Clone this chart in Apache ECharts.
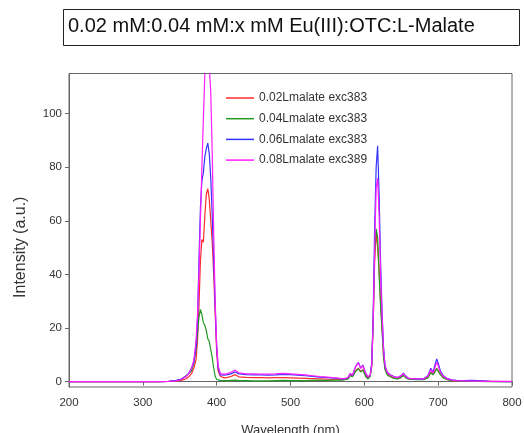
<!DOCTYPE html>
<html>
<head>
<meta charset="utf-8">
<script src="https://cdn.jsdelivr.net/npm/echarts@6/dist/echarts.min.js"></script>
<style>
  html, body { margin: 0; padding: 0; background: #fff; }
  #chart { width: 524px; height: 433px; }
</style>
</head>
<body>
<div id="chart"></div>
<script>
// wavelength (nm)
var wavelength = [200, 250, 300, 320, 335, 345, 352, 358, 362, 366, 369,
  372, 374, 376, 378, 380, 382, 384, 386, 388, 390, 392, 394, 396, 398, 400, 402,
  405, 410, 415, 420, 425, 430,
  440, 450, 460, 470, 480, 490, 500, 510, 520, 530, 540, 550, 560, 570,
  575, 578, 581, 584, 588, 592, 595, 598, 602, 605, 608,
  610, 612, 614, 616, 618, 620, 622, 624, 626, 628,
  631, 635, 640, 645, 650, 653, 656, 660, 670, 680,
  686, 690, 693, 696, 698, 700, 703, 707, 712, 718, 725, 735, 745, 755, 770, 800];

var malate002 = [0, 0, 0, 0, 0.05, 0.2, 0.5, 1, 1.8, 3, 5,
  8, 15, 28, 45, 53, 52, 62, 70, 72, 68, 60, 52, 40, 25, 11, 4,
  2, 1.4, 1.6, 2, 2.6, 1.8,
  1.6, 1.5, 1.5, 1.4, 1.5, 1.5, 1.4, 1.3, 1.2, 1.1, 1, 0.9, 0.8, 0.7,
  0.8, 1.2, 2.5, 2, 4, 5, 3.8, 4.5, 2.2, 1.3, 2.2,
  6, 22, 45, 56, 50, 42, 30, 20, 10, 5,
  3, 2, 1.4, 1.1, 1.7, 2.4, 1.6, 1, 0.8, 0.8,
  1.5, 3.5, 2.6, 4, 5, 4.5, 2.8, 1.5, 0.8, 0.4, 0.3, 0.2, 0.1, 0.1, 0.1, 0];

var malate004 = [0, 0, 0, 0, 0.1, 0.3, 0.8, 2, 3, 4, 7,
  12, 18, 24, 27, 25, 22, 21, 19, 16, 15, 12, 9, 5, 2, 0.8, 0.6,
  0.5, 0.4, 0.4, 0.5, 0.6, 0.4,
  0.4, 0.3, 0.3, 0.3, 0.4, 0.5, 0.4, 0.4, 0.4, 0.5, 0.5, 0.5, 0.6, 0.6,
  0.8, 1, 2.2, 1.8, 3.8, 4.8, 3.6, 4.3, 1.8, 1, 2,
  6, 23, 48, 57, 54, 40, 28, 19, 9, 4.5,
  2.5, 1.8, 1.2, 1, 1.6, 2.3, 1.5, 0.9, 0.7, 0.7,
  1.4, 3.3, 2.5, 3.8, 4.8, 4.4, 2.6, 1.4, 0.8, 0.4, 0.3, 0.2, 0.1, 0.1, 0, 0];

var malate006 = [0, 0, 0, 0, 0.1, 0.5, 1, 2, 3, 5, 7,
  13, 22, 45, 65, 75, 78, 84, 87, 89, 85, 76, 62, 45, 28, 13, 5,
  2.5, 2.4, 2.6, 3, 3.6, 2.9,
  2.6, 2.5, 2.5, 2.4, 2.5, 2.7, 2.6, 2.4, 2.2, 2, 1.7, 1.5, 1.3, 1,
  1.1, 1.5, 3, 2.3, 5.5, 7.2, 5, 6.2, 3, 1.7, 2.5,
  7, 25, 58, 80, 88, 70, 45, 26, 13, 6,
  3.5, 2.6, 1.9, 1.5, 2.3, 3.2, 2.1, 1.2, 1, 1,
  2.2, 5, 3.5, 6.5, 8.5, 7, 4, 2.2, 1.2, 0.7, 0.5, 0.4, 0.5, 0.4, 0.1, 0];

var malate008 = [0, 0, 0, 0, 0.1, 0.3, 0.8, 1.8, 3, 5, 8,
  15, 25, 40, 60, 80, 98, 115, 126, 124, 118, 108, 85, 55, 30, 14, 6,
  3, 2.8, 3, 3.6, 4.3, 3.3,
  2.9, 2.9, 2.8, 2.8, 2.9, 3.1, 2.9, 2.7, 2.5, 2.2, 1.9, 1.7, 1.4, 1.1,
  1.2, 1.6, 3, 2.5, 5.5, 7, 5, 6, 3, 1.8, 2.5,
  6, 22, 50, 72, 76, 62, 40, 25, 12, 6,
  3.5, 2.5, 1.8, 1.5, 2.2, 3, 2, 1.2, 1, 1,
  2, 4.5, 3.2, 5.5, 7.2, 6, 3.5, 2, 1.1, 0.6, 0.4, 0.3, 0.2, 0.2, 0.1, 0.1];

var seriesNames = ["0.02Lmalate exc383", "0.04Lmalate exc383", "0.06Lmalate exc383", "0.08Lmalate exc389"];
var seriesColors = ["#ff2b2b", "#229a22", "#3434ff", "#ff1cff"];
var yTicks = [0, 20, 40, 60, 80, 100];

function pairs(values) {
  return wavelength.map(function (w, i) { return [w, values[i]]; });
}

var allValues = [malate002, malate004, malate006, malate008];

var chart = echarts.init(document.getElementById("chart"));
var option = {
  animation: false,
  backgroundColor: "#fff",
  textStyle: { fontFamily: "Liberation Sans, Arial, sans-serif" },
  graphic: [
    {
      type: "rect",
      shape: { x: 63.5, y: 9.5, width: 456, height: 36 },
      style: { fill: "#fff", stroke: "#222", lineWidth: 1 },
    },
    {
      type: "text",
      left: 68,
      top: 16.5,
      style: {
        text: "0.02 mM:0.04 mM:x mM Eu(III):OTC:L-Malate",
        font: "20px 'Liberation Sans', Arial, sans-serif",
        fill: "#111",
      },
    },
  ],
  legend: {
    data: seriesNames,
    orient: "vertical",
    left: 221,
    top: 87,
    icon: "rect",
    itemWidth: 28,
    itemHeight: 1.5,
    itemGap: 8.7,
    textStyle: { fontSize: 12, color: "#333" },
  },
  grid: {
    left: 69,
    right: 12,
    top: 73.5,
    bottom: 46,
    outerBoundsMode: "none",
    show: true,
    borderColor: "#666",
    borderWidth: 1,
  },
  xAxis: {
    type: "value",
    min: 200,
    max: 800,
    interval: 100,
    name: "Wavelength (nm)",
    nameLocation: "middle",
    nameGap: 37,
    nameTextStyle: { fontSize: 13, color: "#333" },
    axisLine: { lineStyle: { color: "#666" } },
    axisTick: { length: 4, lineStyle: { color: "#666" } },
    axisLabel: { fontSize: 11.5, color: "#333", margin: 10 },
    splitLine: { show: false },
  },
  yAxis: {
    type: "value",
    min: -2,
    max: 115,
    name: "Intensity (a.u.)",
    nameLocation: "middle",
    nameGap: 40,
    nameTextStyle: { fontSize: 16, color: "#333", padding: [0, 34, 0, 0] },
    axisLine: { show: true, lineStyle: { color: "#666" } },
    axisTick: { show: true, length: 4, customValues: yTicks, lineStyle: { color: "#666" } },
    axisLabel: { fontSize: 11.5, color: "#333", margin: 7, customValues: yTicks },
    splitLine: { show: false },
  },
  series: allValues.map(function (vals, i) {
    return {
      name: seriesNames[i],
      type: "line",
      data: pairs(vals),
      symbol: "none",
      color: seriesColors[i],
      lineStyle: { width: 1.2 },
      z: 2 + i,
    };
  }),
};
chart.setOption(option);
</script>
</body>
</html>
